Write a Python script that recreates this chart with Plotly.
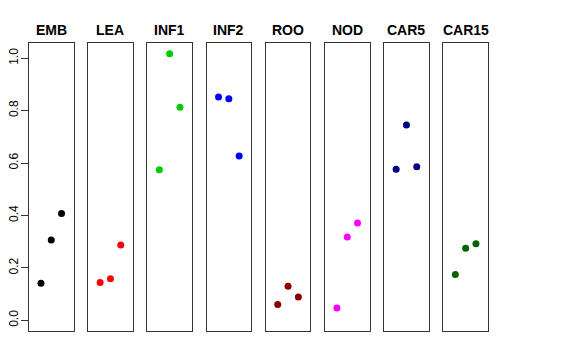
import plotly.graph_objects as go

tissues = ["EMB", "LEA", "INF1", "INF2", "ROO", "NOD", "CAR5", "CAR15"]
colors = ["#000000", "#FF0000", "#00CD00", "#0000FF", "#8B0000", "#FF00FF", "#000080", "#006400"]
rep_x = [1, 2, 3]
values = {
    "EMB":   [0.141, 0.306, 0.407],
    "LEA":   [0.144, 0.159, 0.287],
    "INF1":  [0.574, 1.017, 0.813],
    "INF2":  [0.852, 0.845, 0.627],
    "ROO":   [0.060, 0.130, 0.089],
    "NOD":   [0.047, 0.318, 0.371],
    "CAR5":  [0.576, 0.745, 0.586],
    "CAR15": [0.175, 0.275, 0.292],
}
y_ticks = [0.0, 0.2, 0.4, 0.6, 0.8, 1.0]
y_tick_text = ["0.0", "0.2", "0.4", "0.6", "0.8", "1.0"]

# page body has an 8px margin; size the figure to fit the 576x360 window
OFF = 8
W, H = 576 - OFF, 360 - OFF
left0 = 29.0 - OFF
pw = 44.5
step = 59.2
top_px, bot_px = 43.0 - OFF, 331.0 - OFF
ymax = max(max(v) for v in values.values())
ext = ymax * 0.04
yrange = [0 - ext, ymax + ext]
xrange = [-0.16, 4.16]

fig = go.Figure()
layout = {}
annotations = []
for i, t in enumerate(tissues):
    n = "" if i == 0 else str(i + 1)
    x0 = (left0 + i * step) / W
    x1 = (left0 + i * step + pw) / W
    fig.add_trace(go.Scatter(
        x=rep_x, y=values[t], mode="markers",
        marker=dict(color=colors[i], size=7),
        xaxis="x" + n, yaxis="y" + n, showlegend=False,
        hoverinfo="x+y",
    ))
    layout["xaxis" + n] = dict(
        domain=[x0, x1], range=xrange, showgrid=False, zeroline=False,
        showticklabels=False, ticks="", showline=True, mirror=True,
        linecolor="#333333", linewidth=1, anchor="y" + n, fixedrange=True,
        automargin=False,
    )
    ya = dict(
        domain=[1 - bot_px / H, 1 - top_px / H], range=yrange, showgrid=False,
        zeroline=False, showline=True, mirror=True, linecolor="#333333",
        linewidth=1, anchor="x" + n, fixedrange=True, automargin=False,
    )
    if i == 0:
        ya.update(tickmode="array", tickvals=y_ticks, ticktext=y_tick_text,
                  ticks="outside", ticklen=7, tickcolor="#333333",
                  ticklabelstandoff=-2,
                  tickangle=-90, tickfont=dict(size=12, color="#000000"))
    else:
        ya.update(showticklabels=False, ticks="")
    layout["yaxis" + n] = ya
    annotations.append(dict(
        x=(x0 + x1) / 2, y=1 - (30 - OFF) / H, xref="paper", yref="paper",
        text="<b>" + t + "</b>", showarrow=False, xanchor="center", yanchor="middle",
        font=dict(size=14, color="#000000"),
    ))

fig.update_layout(
    width=W, height=H, margin=dict(l=0, r=0, t=0, b=0, autoexpand=False),
    paper_bgcolor="white", plot_bgcolor="white",
    font=dict(family="Liberation Sans, Arial, sans-serif", color="#000000"),
    annotations=annotations, **layout,
)
fig.write_html("out.html")
